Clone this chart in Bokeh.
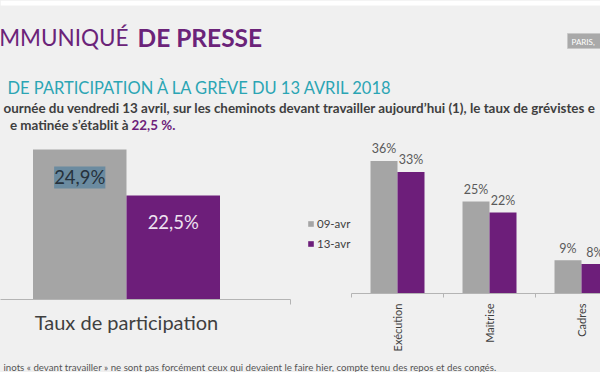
import math
from bokeh.plotting import figure
from bokeh.models import Range1d, FixedTicker, Legend, LegendItem, Label
from bokeh.layouts import column, row
from bokeh.embed import file_html
from bokeh.resources import INLINE
from bokeh.core.properties import value

# ---------------- data ----------------
series_names = ["09-avr", "13-avr"]

left_categories = ["Taux de participation"]
left_values = [24.9, 22.5]          # one value per series for the single category

right_categories = ["Exécution", "Maîtrise", "Cadres"]
right_values_09 = [36, 25, 9]
right_values_13 = [33, 22, 8]

title_light = "MMUNIQUÉ"
title_bold = "DE PRESSE"
heading = "DE PARTICIPATION À LA GRÈVE DU 13 AVRIL 2018"
body_line1 = "ournée du vendredi 13 avril, sur les cheminots devant travailler aujourd’hui (1), le taux de grévistes e"
body_line2 = "e matinée s’établit à"
body_value = "22,5 %."
footer_text = "inots « devant travailler » ne sont pas forcément ceux qui devaient le faire hier, compte tenu des repos et des congés."
date_tag = "PARIS, "

# ---------------- style ----------------
BG = "#f0f0f0"
GRAY = "#a5a5a5"
PURPLE = "#6d1e7a"
TITLE_PURPLE = "#6b2379"
TEAL = "#2ba5b4"
DARK = "#3f3f3f"
AXIS = "#b4b4b4"
FONT = value("Lato")
W = 600


def base_fig(w, h, xr, yr, **kw):
    p = figure(width=w, height=h, x_range=xr, y_range=yr, output_backend="svg",
               toolbar_location=None, background_fill_color=BG, border_fill_color=BG,
               outline_line_color=None, min_border_left=0, min_border_right=0,
               min_border_top=0, **kw)
    p.grid.visible = False
    return p


# ---------------- header (page y 0..135) ----------------
head = base_fig(W, 135, Range1d(0, 600), Range1d(135, 0), min_border_bottom=0,
                x_axis_location=None, y_axis_location=None)
head.quad(left=[0], right=[600], top=[0], bottom=[5], fill_color="white", line_color=None)
head.text(x=[128], y=[37], text=[title_light], text_font=FONT, text_font_size="22.5px",
          text_color=TITLE_PURPLE, text_align="right", text_baseline="alphabetic")
head.text(x=[137], y=[37], text=[title_bold], text_font=FONT, text_font_size="24.5px",
          text_font_style="bold", text_color=TITLE_PURPLE, text_align="left",
          text_baseline="alphabetic")
head.quad(left=[567], right=[601], top=[33], bottom=[48], fill_color="#a9a9a9",
          line_color="#c8c8c8")
head.text(x=[571], y=[41], text=[date_tag], text_font=FONT, text_font_size="8px",
          text_color="white", text_align="left", text_baseline="middle")
head.text(x=[7], y=[87], text=[heading], text_font=FONT, text_font_size="16.5px",
          text_color=TEAL, text_align="left", text_baseline="alphabetic")
head.text(x=[3], y=[107], text=[body_line1], text_font=FONT, text_font_size="13.4px",
          text_font_style="bold", text_color=DARK, text_align="left",
          text_baseline="alphabetic")
head.text(x=[128], y=[124], text=[body_line2], text_font=FONT, text_font_size="13.4px",
          text_font_style="bold", text_color=DARK, text_align="right",
          text_baseline="alphabetic")
head.text(x=[131], y=[124], text=[body_value], text_font=FONT, text_font_size="13.4px",
          text_font_style="bold", text_color=PURPLE, text_align="left",
          text_baseline="alphabetic")

colors = [GRAY, PURPLE]

# ---------------- left chart (page x 0..300, frame y 135..299) ----------------
L_UNIT = 93.5
L_CENTER = 126.0
lx0, lx1 = (0 - L_CENTER) / L_UNIT, (300 - L_CENTER) / L_UNIT
left = base_fig(300, 219, Range1d(lx0, lx1), Range1d(17.075, 25.63),
                min_border_bottom=55, y_axis_location=None)
left.frame_height = 164
left.frame_width = 300
for j, v in enumerate(left_values):
    xs = [i + (j - 0.5) for i in range(len(left_categories))]
    left.vbar(x=xs, top=[v], bottom=0, width=1.0, fill_color=colors[j], line_color=None)
    txt = ("%.1f%%" % v).replace(".", ",")
    if j == 0:
        lab = Label(x=xs[0], y=v, y_offset=-28, text=txt, text_font="Lato",
                    text_font_size="18.5px", text_color="#26323d", text_align="center",
                    text_baseline="middle", background_fill_color="#6b8ba0",
                    padding=0)
    else:
        lab = Label(x=xs[0], y=v, y_offset=-26, text=txt, text_font="Lato",
                    text_font_size="18.5px", text_color="#eee2f0", text_align="center",
                    text_baseline="middle")
    left.add_layout(lab)

lax = left.xaxis[0]
lax.ticker = FixedTicker(ticks=list(range(len(left_categories))),
                         minor_ticks=[(290 - L_CENTER) / L_UNIT])
lax.major_label_overrides = {i: c for i, c in enumerate(left_categories)}
lax.bounds = (lx0 - 1, (290 - L_CENTER) / L_UNIT)
lax.axis_line_color = AXIS
lax.major_tick_line_color = None
lax.major_tick_out = 0
lax.major_tick_in = 0
lax.minor_tick_line_color = AXIS
lax.minor_tick_out = 5
lax.minor_tick_in = 0
lax.major_label_text_font = "Lato"
lax.major_label_text_font_size = "20px"
lax.major_label_text_color = DARK
lax.major_label_standoff = 5

# ---------------- right chart (page x 300..600, frame y 135..293) ----------------
R_UNIT = 92.0
R_CENTER = 397.0
rx0, rx1 = (300 - R_CENTER) / R_UNIT, (600 - R_CENTER) / R_UNIT
right = base_fig(300, 219, Range1d(rx0, rx1), Range1d(0, 42.9),
                 min_border_bottom=61, y_axis_location=None)
right.frame_height = 158
right.frame_width = 300
BW = 27.0 / R_UNIT
renderers = []
for j, vals in enumerate([right_values_09, right_values_13]):
    xs = [i + (j - 0.5) * BW for i in range(len(right_categories))]
    r = right.vbar(x=xs, top=vals, bottom=0, width=BW, fill_color=colors[j],
                   line_color=None)
    renderers.append(r)
    for x, v in zip(xs, vals):
        right.add_layout(Label(x=x, y=v, y_offset=12, text="%d%%" % v, text_font="Lato",
                               text_font_size="12.5px", text_color="#5a5a5a",
                               text_align="center", text_baseline="middle"))

rax = right.xaxis[0]
rax.ticker = FixedTicker(ticks=list(range(len(right_categories))),
                         minor_ticks=[i - 0.5 for i in range(len(right_categories))])
rax.major_label_overrides = {i: c for i, c in enumerate(right_categories)}
rax.bounds = (-0.5, rx1 + 1)
rax.axis_line_color = AXIS
rax.major_tick_line_color = None
rax.major_tick_out = 0
rax.major_tick_in = 0
rax.minor_tick_line_color = AXIS
rax.minor_tick_out = 4
rax.minor_tick_in = 0
rax.major_label_orientation = math.pi / 2
rax.major_label_text_font = "Lato"
rax.major_label_text_font_size = "11px"
rax.major_label_text_color = DARK
rax.major_label_standoff = 6

legend = Legend(items=[LegendItem(label=n, renderers=[r]) for n, r in zip(series_names, renderers)],
                location=(7, 43), glyph_width=7, glyph_height=7, label_height=14,
                spacing=6, padding=0, margin=0, label_standoff=3,
                label_text_font="Lato", label_text_font_size="11.5px",
                label_text_color=DARK, background_fill_alpha=0, border_line_color=None)
right.add_layout(legend)

# ---------------- footer (page y 354..372) ----------------
foot = base_fig(W, 18, Range1d(0, 600), Range1d(372, 354), min_border_bottom=0,
                x_axis_location=None, y_axis_location=None)
foot.text(x=[3], y=[366], text=[footer_text], text_font=FONT, text_font_size="9.7px",
          text_color="#555555", text_align="left", text_baseline="alphabetic")

charts = row(left, right, spacing=0, styles={"background-color": BG})
layout = column(head, charts, foot, spacing=0, styles={"background-color": BG})
open("out.html", "w").write(file_html(layout, INLINE))
